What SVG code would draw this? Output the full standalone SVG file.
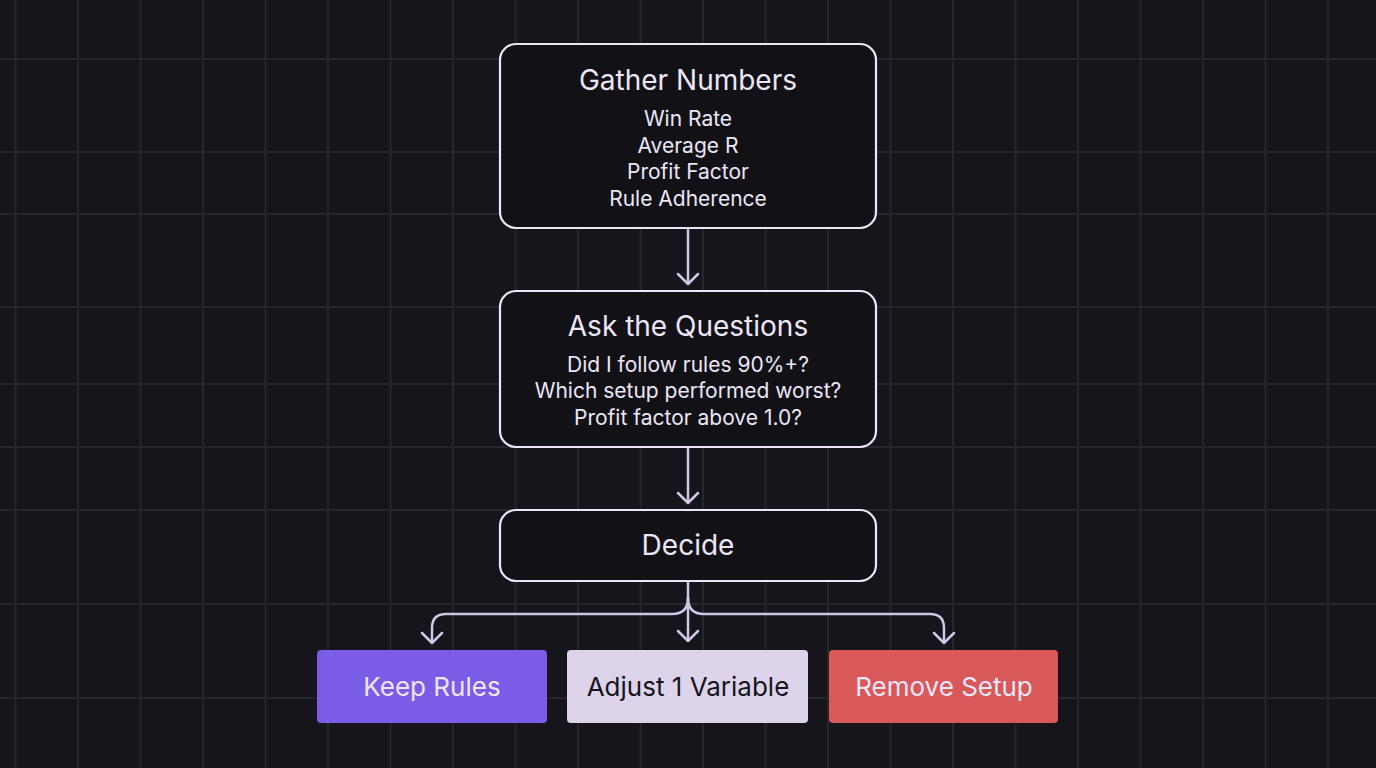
<svg xmlns="http://www.w3.org/2000/svg" width="1376" height="768" viewBox="0 0 1376 768">
<defs>
<style>
.g{stroke:#26262d;stroke-width:2}
.n{fill:#121216;stroke:#ece6f8;stroke-width:2.2}
.t{font-family:Inter,"Noto Sans",sans-serif;fill:#ece6f8;text-anchor:middle}
.c{fill:none;stroke:#cfc6e6;stroke-width:2.5;stroke-linecap:round;stroke-linejoin:round}
</style>
</defs>
<rect width="1376" height="768" fill="#15151b"/>
<g id="grid">
<path class="g" d="M15.5,0V768M78,0V768M140.5,0V768M203,0V768M265.5,0V768M328,0V768M390.5,0V768M453,0V768M515.5,0V768M578,0V768M640.5,0V768M703,0V768M765.5,0V768M828,0V768M890.5,0V768M953,0V768M1015.5,0V768M1078,0V768M1140.5,0V768M1203,0V768M1265.5,0V768M1328,0V768M0,59H1376M0,152H1376M0,214H1376M0,307H1376M0,384H1376M0,447H1376M0,510H1376M0,604H1376M0,698H1376"/>
</g>
<g id="connectors">
<path class="c" d="M688,229V284M678,274L688,284L698,274"/>
<path class="c" d="M688,448V503M678,493L688,503L698,493"/>
<path class="c" d="M688,582V641M678,631L688,641L698,631"/>
<path class="c" d="M688,598Q688,614 672,614H446Q432,614 432,628V643M422,633L432,643L442,633"/>
<path class="c" d="M688,598Q688,614 704,614H930Q944,614 944,628V643M934,633L944,643L954,633"/>
</g>
<g id="gather">
<rect class="n" x="500" y="44" width="376" height="184" rx="16"/>
<text class="t" x="688" y="90" font-size="28">Gather Numbers</text>
<text class="t" x="688" y="126" font-size="21">Win Rate</text>
<text class="t" x="688" y="153" font-size="21">Average R</text>
<text class="t" x="688" y="179" font-size="21">Profit Factor</text>
<text class="t" x="688" y="206" font-size="21">Rule Adherence</text>
</g>
<g id="ask">
<rect class="n" x="500" y="291" width="376" height="156" rx="16"/>
<text class="t" x="688" y="336" font-size="28">Ask the Questions</text>
<text class="t" x="688" y="372" font-size="21">Did I follow rules 90%+?</text>
<text class="t" x="688" y="398" font-size="21">Which setup performed worst?</text>
<text class="t" x="688" y="425" font-size="21">Profit factor above 1.0?</text>
</g>
<g id="decide">
<rect class="n" x="500" y="510" width="376" height="71" rx="16"/>
<text class="t" x="688" y="555" font-size="28">Decide</text>
</g>
<g id="keep">
<rect x="317" y="650" width="230" height="73" rx="4" fill="#7b5ce6"/>
<text class="t" x="432" y="696" font-size="26">Keep Rules</text>
</g>
<g id="adjust">
<rect x="567" y="650" width="241" height="73" rx="4" fill="#ddd4ec"/>
<text class="t" x="688" y="696" font-size="26" style="fill:#15151b">Adjust 1 Variable</text>
</g>
<g id="remove">
<rect x="829" y="650" width="229" height="73" rx="4" fill="#d95858"/>
<text class="t" x="944" y="696" font-size="26">Remove Setup</text>
</g>
</svg>
